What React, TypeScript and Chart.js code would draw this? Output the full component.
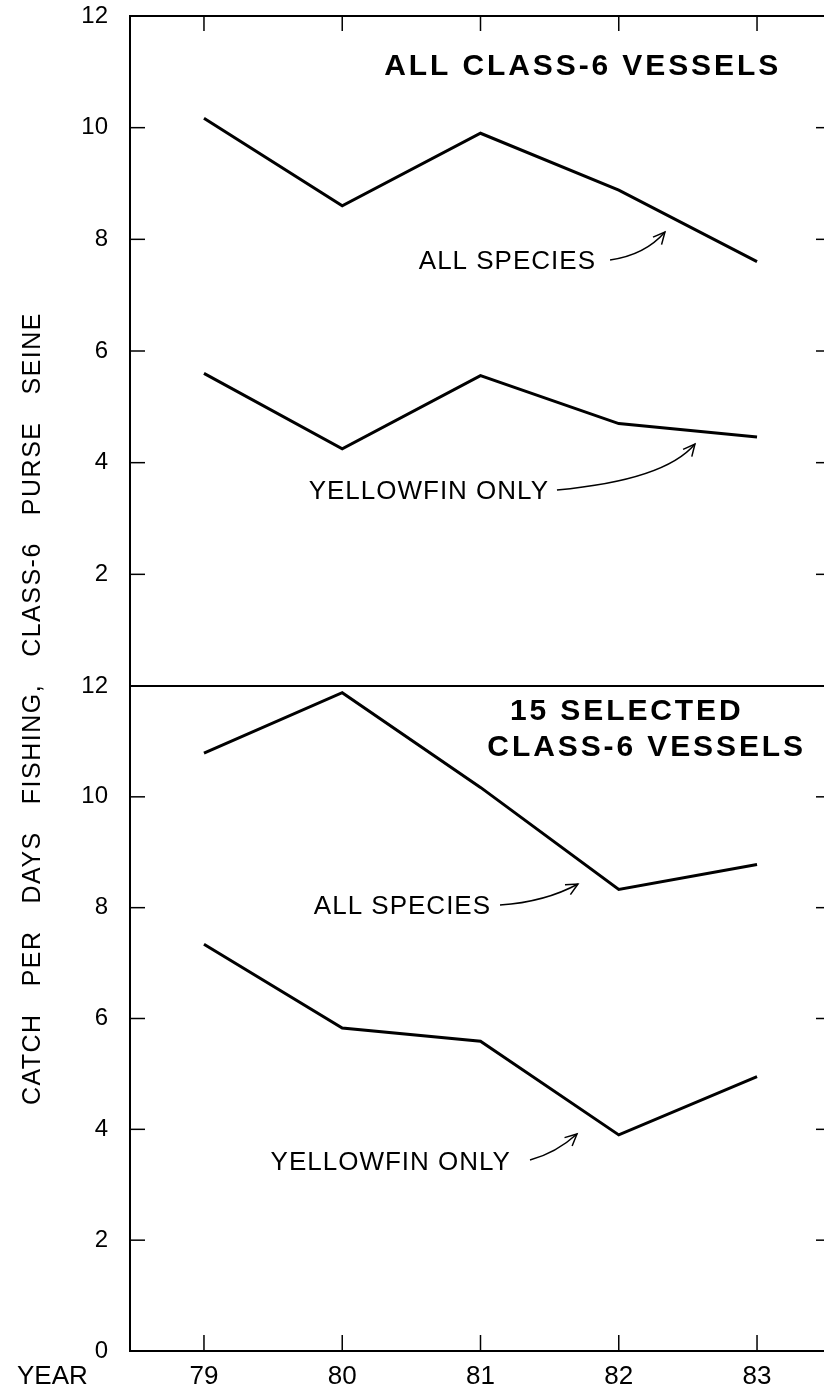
import { useEffect, useRef } from "react";
import { Chart, registerables } from "chart.js";

Chart.register(...registerables);

// ---------------- data ----------------
const years = [79, 80, 81, 82, 83];
const yearTickLabels = ["79", "80", "81", "82", "83"];
const valueTicks = [0, 2, 4, 6, 8, 10, 12];
const allClassAllSpecies = [10.17, 8.6, 9.9, 8.88, 7.6];
const allClassYellowfin = [5.6, 4.25, 5.56, 4.7, 4.46];
const selectedAllSpecies = [10.79, 11.88, 10.17, 8.33, 8.78];
const selectedYellowfin = [7.34, 5.83, 5.59, 3.9, 4.95];
const topPanelTitle = ["ALL CLASS-6 VESSELS"];
const bottomPanelTitle = ["15 SELECTED", "CLASS-6 VESSELS"];
const seriesNames = ["ALL SPECIES", "YELLOWFIN ONLY"];
const yTitleWords = ["CATCH", "PER", "DAYS", "FISHING,", "CLASS-6", "PURSE", "SEINE"];
const xAxisName = "YEAR";

// ---------------- layout / annotation placement (data units) ----------------
const X_MIN = 78.465;
const X_MAX = 83.535;
const FONT = "'Liberation Sans', Arial, Helvetica, sans-serif";

type Note = {
  axis: string;
  text: string;
  at: [number, number];
  tail: [number, number];
  ctrl: [number, number];
  head: [number, number];
};

const notes: Note[] = [
  { axis: "yTop", text: seriesNames[0], at: [81.828, 7.603], tail: [81.937, 7.63], ctrl: [82.19, 7.719], head: [82.334, 8.131] },
  { axis: "yTop", text: seriesNames[1], at: [81.488, 3.474], tail: [81.553, 3.51], ctrl: [82.334, 3.689], head: [82.551, 4.334] },
  { axis: "yBot", text: seriesNames[0], at: [81.069, 8.012], tail: [81.141, 8.048], ctrl: [81.466, 8.102], head: [81.705, 8.427] },
  { axis: "yBot", text: seriesNames[1], at: [81.213, 3.393], tail: [81.358, 3.447], ctrl: [81.546, 3.573], head: [81.698, 3.916] },
];

const toPts = (vals: number[]) => years.map((x, i) => ({ x, y: vals[i] }));

const decorPlugin = {
  id: "decor",
  afterDraw(chart: any) {
    const ctx: CanvasRenderingContext2D = chart.ctx;
    const { left, right, top, bottom } = chart.chartArea;
    const xs = chart.scales.x;
    const yT = chart.scales.yTop;
    const yB = chart.scales.yBot;
    const line = (x1: number, y1: number, x2: number, y2: number) => {
      ctx.beginPath();
      ctx.moveTo(x1, y1);
      ctx.lineTo(x2, y2);
      ctx.stroke();
    };
    ctx.save();
    ctx.strokeStyle = "#000";
    ctx.fillStyle = "#000";
    ctx.lineWidth = 2;
    ctx.strokeRect(left, top, right - left, bottom - top);
    const mid = yB.getPixelForValue(12);
    line(left, mid, right, mid);

    // inward tick marks
    ctx.lineWidth = 1.5;
    years.forEach((v) => {
      const px = xs.getPixelForValue(v);
      line(px, top, px, top + 15);
      line(px, bottom, px, bottom - 16);
    });
    [yT, yB].forEach((s: any) => {
      valueTicks
        .filter((v) => v > 0 && v < 12)
        .forEach((v) => {
          const py = s.getPixelForValue(v);
          line(left, py, left + 15, py);
          line(right - 15, py, right, py);
        });
    });

    // panel titles
    (ctx as any).letterSpacing = "2.9px";
    ctx.font = `bold 30px ${FONT}`;
    ctx.textBaseline = "middle";
    ctx.textAlign = "right";
    ctx.fillText(topPanelTitle[0], xs.getPixelForValue(83.152) + 3, yT.getPixelForValue(11.087));
    ctx.textAlign = "left";
    ctx.fillText(bottomPanelTitle[0], xs.getPixelForValue(81.213), yB.getPixelForValue(11.531));
    ctx.textAlign = "right";
    ctx.fillText(bottomPanelTitle[1], xs.getPixelForValue(83.332) + 3, yB.getPixelForValue(10.881));

    // series labels and arrows
    (ctx as any).letterSpacing = "1px";
    ctx.font = `26px ${FONT}`;
    notes.forEach((n) => {
      const ys = chart.scales[n.axis];
      const P = (p: [number, number]) => [xs.getPixelForValue(p[0]), ys.getPixelForValue(p[1])];
      const [tx, ty] = P(n.at);
      ctx.textAlign = "right";
      ctx.fillText(n.text, tx + 1, ty);
      const [ax, ay] = P(n.tail);
      const [cx, cy] = P(n.ctrl);
      const [hx, hy] = P(n.head);
      ctx.lineWidth = 1.5;
      ctx.beginPath();
      ctx.moveTo(ax, ay);
      ctx.quadraticCurveTo(cx, cy, hx, hy);
      ctx.stroke();
      const ang = Math.atan2(hy - cy, hx - cx);
      const L = 13;
      const spread = 0.45;
      ctx.beginPath();
      ctx.moveTo(hx - L * Math.cos(ang - spread), hy - L * Math.sin(ang - spread));
      ctx.lineTo(hx, hy);
      ctx.lineTo(hx - L * Math.cos(ang + spread), hy - L * Math.sin(ang + spread));
      ctx.stroke();
    });

    // x axis name
    (ctx as any).letterSpacing = "0px";
    ctx.font = `26px ${FONT}`;
    ctx.textAlign = "left";
    ctx.textBaseline = "middle";
    ctx.fillText(xAxisName, 17, bottom + 26);

    // rotated y axis title (reads bottom to top, ends near the top panel's "6")
    ctx.font = `25px ${FONT}`;
    (ctx as any).letterSpacing = "1.5px";
    const widths = yTitleWords.map((w) => ctx.measureText(w).width);
    const gap = 27;
    const total = widths.reduce((a, b) => a + b, 0) + gap * (yTitleWords.length - 1);
    ctx.translate(33, 0);
    ctx.rotate(-Math.PI / 2);
    ctx.textAlign = "left";
    let cur = -312 - total;
    yTitleWords.forEach((w, i) => {
      ctx.fillText(w, cur, 0);
      cur += widths[i] + gap;
    });
    ctx.restore();
  },
};

export default function App() {
  const ref = useRef<HTMLCanvasElement | null>(null);
  useEffect(() => {
    if (!ref.current) return;
    const lineStyle = {
      borderColor: "#000",
      borderWidth: 3,
      pointRadius: 0,
      tension: 0,
      fill: false,
    };
    const yAxis = (showZero: boolean, weight: number) => ({
      type: "linear" as const,
      position: "left" as const,
      stack: "panels",
      stackWeight: weight,
      min: 0,
      max: 12,
      afterBuildTicks: (s: any) => {
        s.ticks = valueTicks.map((v) => ({ value: v }));
      },
      afterFit: (s: any) => {
        s.width = 130;
        s.paddingTop = 0;
        s.paddingBottom = 0;
      },
      ticks: {
        color: "#000",
        font: { family: FONT, size: 24 },
        padding: 22,
        callback: (v: any) => (v === 0 && !showZero ? "" : String(v)),
      },
      grid: { display: false, drawTicks: false },
      border: { display: false },
    });
    const chart = new Chart(ref.current, {
      type: "line",
      data: {
        datasets: [
          { ...lineStyle, label: "all-all", data: toPts(allClassAllSpecies), yAxisID: "yTop" },
          { ...lineStyle, label: "all-yf", data: toPts(allClassYellowfin), yAxisID: "yTop" },
          { ...lineStyle, label: "sel-all", data: toPts(selectedAllSpecies), yAxisID: "yBot" },
          { ...lineStyle, label: "sel-yf", data: toPts(selectedYellowfin), yAxisID: "yBot" },
        ],
      },
      options: {
        animation: false,
        responsive: false,
        maintainAspectRatio: false,
        devicePixelRatio: 1,
        layout: { padding: { top: 16, right: 1, left: 0, bottom: 0 } },
        plugins: { legend: { display: false }, tooltip: { enabled: false }, title: { display: false } },
        scales: {
          x: {
            type: "linear",
            position: "bottom",
            min: X_MIN,
            max: X_MAX,
            afterBuildTicks: (s: any) => {
              s.ticks = years.map((v) => ({ value: v }));
            },
            afterFit: (s: any) => {
              s.height = 40;
              s.paddingLeft = 0;
              s.paddingRight = 0;
            },
            ticks: {
              color: "#000",
              font: { family: FONT, size: 26 },
              padding: 10,
              maxRotation: 0,
              autoSkip: false,
              callback: (v: any) => yearTickLabels[years.indexOf(Number(v))] ?? "",
            },
            grid: { display: false, drawTicks: false },
            border: { display: false },
          },
          yBot: yAxis(true, 665),
          yTop: yAxis(false, 670),
        } as any,
      },
      plugins: [decorPlugin],
    });
    return () => chart.destroy();
  }, []);
  return (
    <div
      style={{
        position: "fixed",
        left: 0,
        top: 0,
        width: 824,
        height: 1391,
        overflow: "hidden",
        background: "#fff",
      }}
    >
      <canvas ref={ref} width={832} height={1391} style={{ display: "block" }} />
    </div>
  );
}
